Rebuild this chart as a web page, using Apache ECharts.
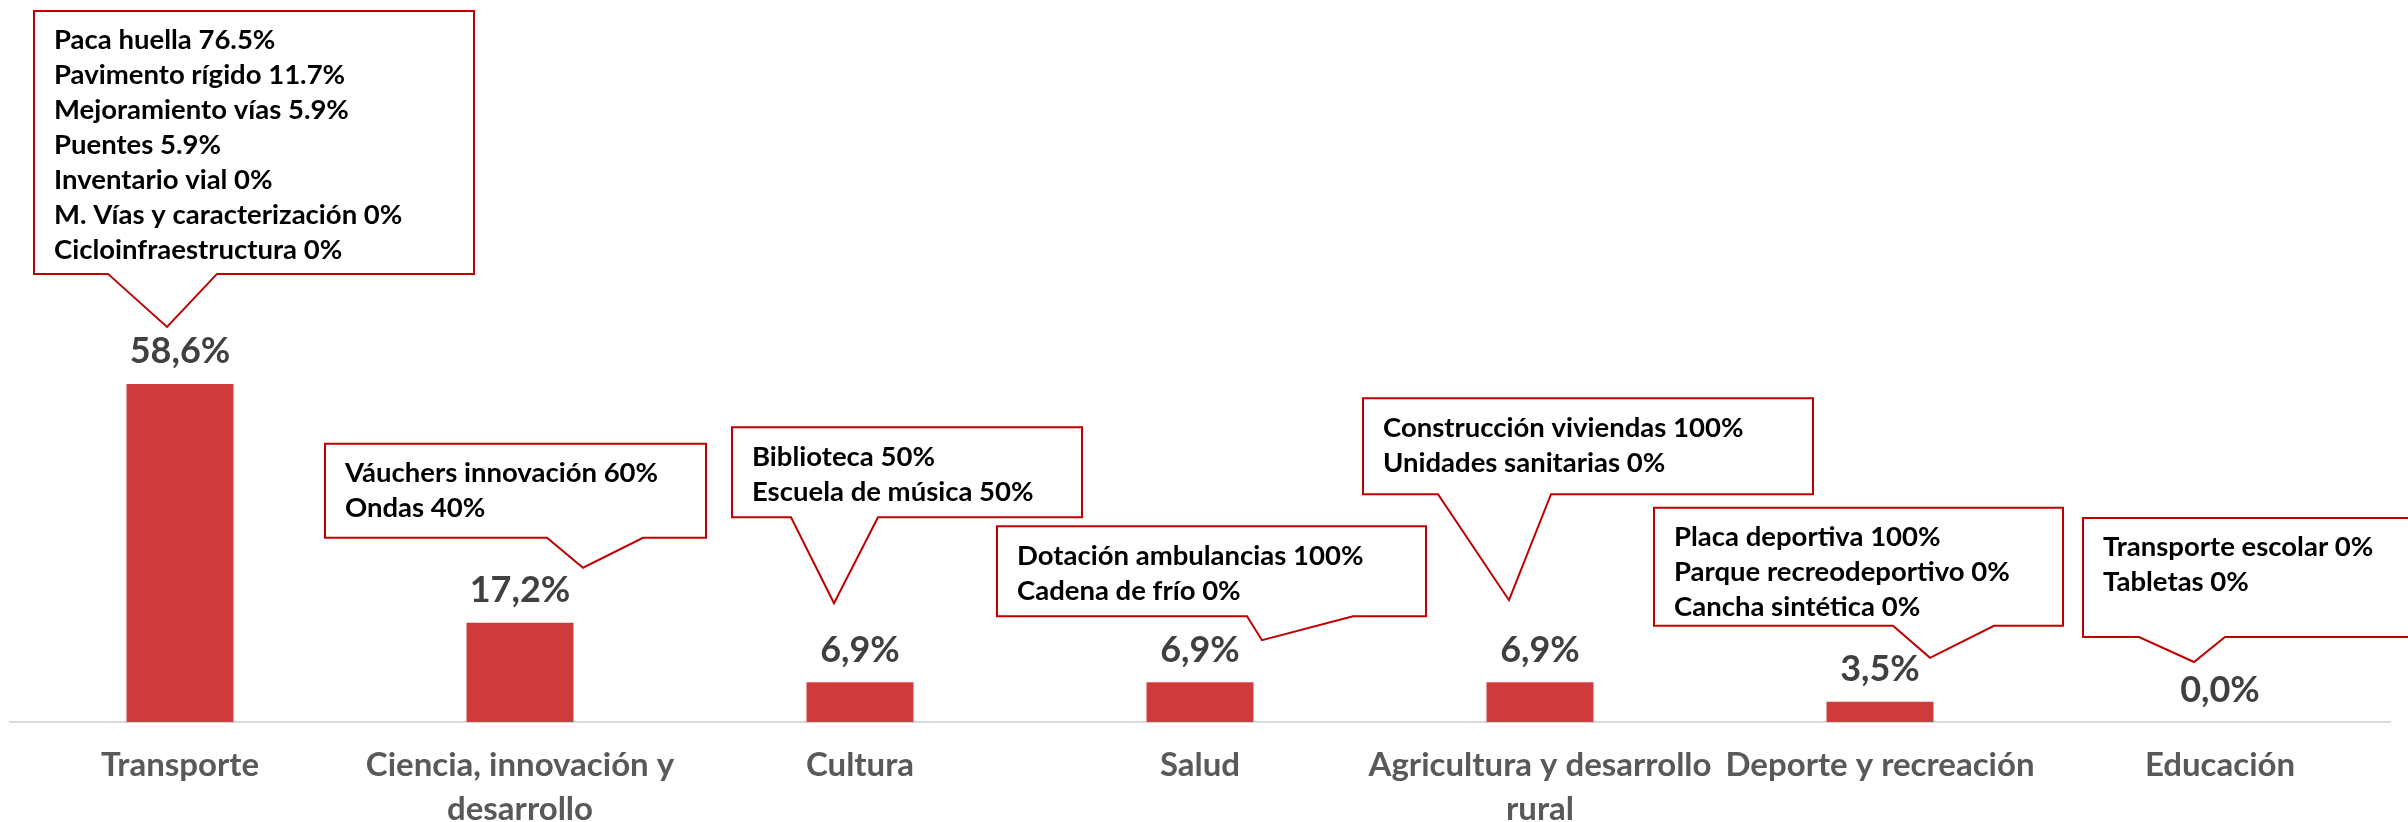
<!DOCTYPE html>
<html><head><meta charset="utf-8">
<script src="https://cdn.jsdelivr.net/npm/echarts@6/dist/echarts.min.js"></script>
<style>html,body{margin:0;padding:0;background:#fff}#c{width:2408px;height:822px}</style>
</head><body><div id="c"></div>
<script>
// ---- data ----
const categories = ['Transporte', 'Ciencia, innovación y\ndesarrollo', 'Cultura', 'Salud', 'Agricultura y desarrollo\nrural', 'Deporte y recreación', 'Educación'];
const values = [58.6, 17.2, 6.9, 6.9, 6.9, 3.5, 0.0];

const detTransporte = ['Paca huella 76.5%', 'Pavimento rígido 11.7%', 'Mejoramiento vías 5.9%', 'Puentes 5.9%', 'Inventario vial 0%', 'M. Vías y caracterización 0%', 'Cicloinfraestructura 0%'];
const detCiencia = ['Váuchers innovación 60%', 'Ondas 40%'];
const detCultura = ['Biblioteca 50%', 'Escuela de música 50%'];
const detSalud = ['Dotación ambulancias 100%', 'Cadena de frío 0%'];
const detAgricultura = ['Construcción viviendas 100%', 'Unidades sanitarias 0%'];
const detDeporte = ['Placa deportiva 100%', 'Parque recreodeportivo 0%', 'Cancha sintética 0%'];
const detEducacion = ['Transporte escolar 0%', 'Tabletas 0%'];
const details = [detTransporte, detCiencia, detCultura, detSalud, detAgricultura, detDeporte, detEducacion];

// ---- layout of callouts, relative to each bar's top-centre pixel ----
const calloutLayout = [
  {l:-146, t:-373, r:294, b:-110, w1:-72, w2:37,  tx:-13, ty:-57},
  {l:-195, t:-179, r:186, b:-85,  w1:27,  w2:123, tx:63,  ty:-55},
  {l:-128, t:-255, r:222, b:-165, w1:-69, w2:18,  tx:-26, ty:-79},
  {l:-203, t:-156, r:226, b:-66,  w1:47,  w2:153, tx:62,  ty:-42},
  {l:-177, t:-284, r:273, b:-188, w1:-102,w2:11,  tx:-31, ty:-82},
  {l:-226, t:-194, r:183, b:-76,  w1:13,  w2:114, tx:50,  ty:-44},
  {l:-137, t:-204, r:200, b:-85,  w1:-81, w2:5,   tx:-26, ty:-60}
];

const FONT = 'Lato, "Open Sans", sans-serif';
const chart = echarts.init(document.getElementById('c'), null, {renderer: 'canvas'});
chart.setOption({
  animation: false,
  backgroundColor: '#ffffff',
  grid: {left: 10, right: 18, top: 145, bottom: 100, containLabel: false, outerBoundsMode: 'none'},
  xAxis: {
    type: 'category', data: categories,
    axisLine: {lineStyle: {color: '#D9D9D9', width: 2}},
    axisTick: {show: false},
    axisLabel: {color: '#595959', fontFamily: FONT, fontWeight: 'bold', fontSize: 33, lineHeight: 44, margin: 21, interval: 0}
  },
  yAxis: {type: 'value', min: 0, max: 100, show: false},
  series: [{
    type: 'bar', data: values, barWidth: 107,
    itemStyle: {color: '#D03B3E'},
    label: {
      show: true, position: 'top', distance: 12,
      color: '#404040', fontFamily: FONT, fontWeight: 'bold', fontSize: 36, lineHeight: 40,
      formatter: p => p.value.toFixed(1).replace('.', ',') + '%'
    }
  }]
});

const graphics = [];
categories.forEach((c, i) => {
  const pt = chart.convertToPixel({seriesIndex: 0}, [i, values[i]]);
  const cx = pt[0], cy = pt[1];
  const g = calloutLayout[i];
  const L = cx + g.l, T = cy + g.t, R = cx + g.r, B = cy + g.b;
  graphics.push({
    type: 'polygon', z: 100,
    shape: {points: [[L, T], [R, T], [R, B], [cx + g.w2, B], [cx + g.tx, cy + g.ty], [cx + g.w1, B], [L, B]]},
    style: {fill: '#ffffff', stroke: '#C00000', lineWidth: 2}
  });
  graphics.push({
    type: 'text', z: 101, x: L + 20, y: T + 12,
    style: {text: details[i].join('\n'), fontFamily: 'Lato', fontWeight: 'bold', fontSize: 27.5, lineHeight: 35, fill: '#000000', verticalAlign: 'top', align: 'left'}
  });
});
chart.setOption({graphic: graphics});
</script>
</body></html>
